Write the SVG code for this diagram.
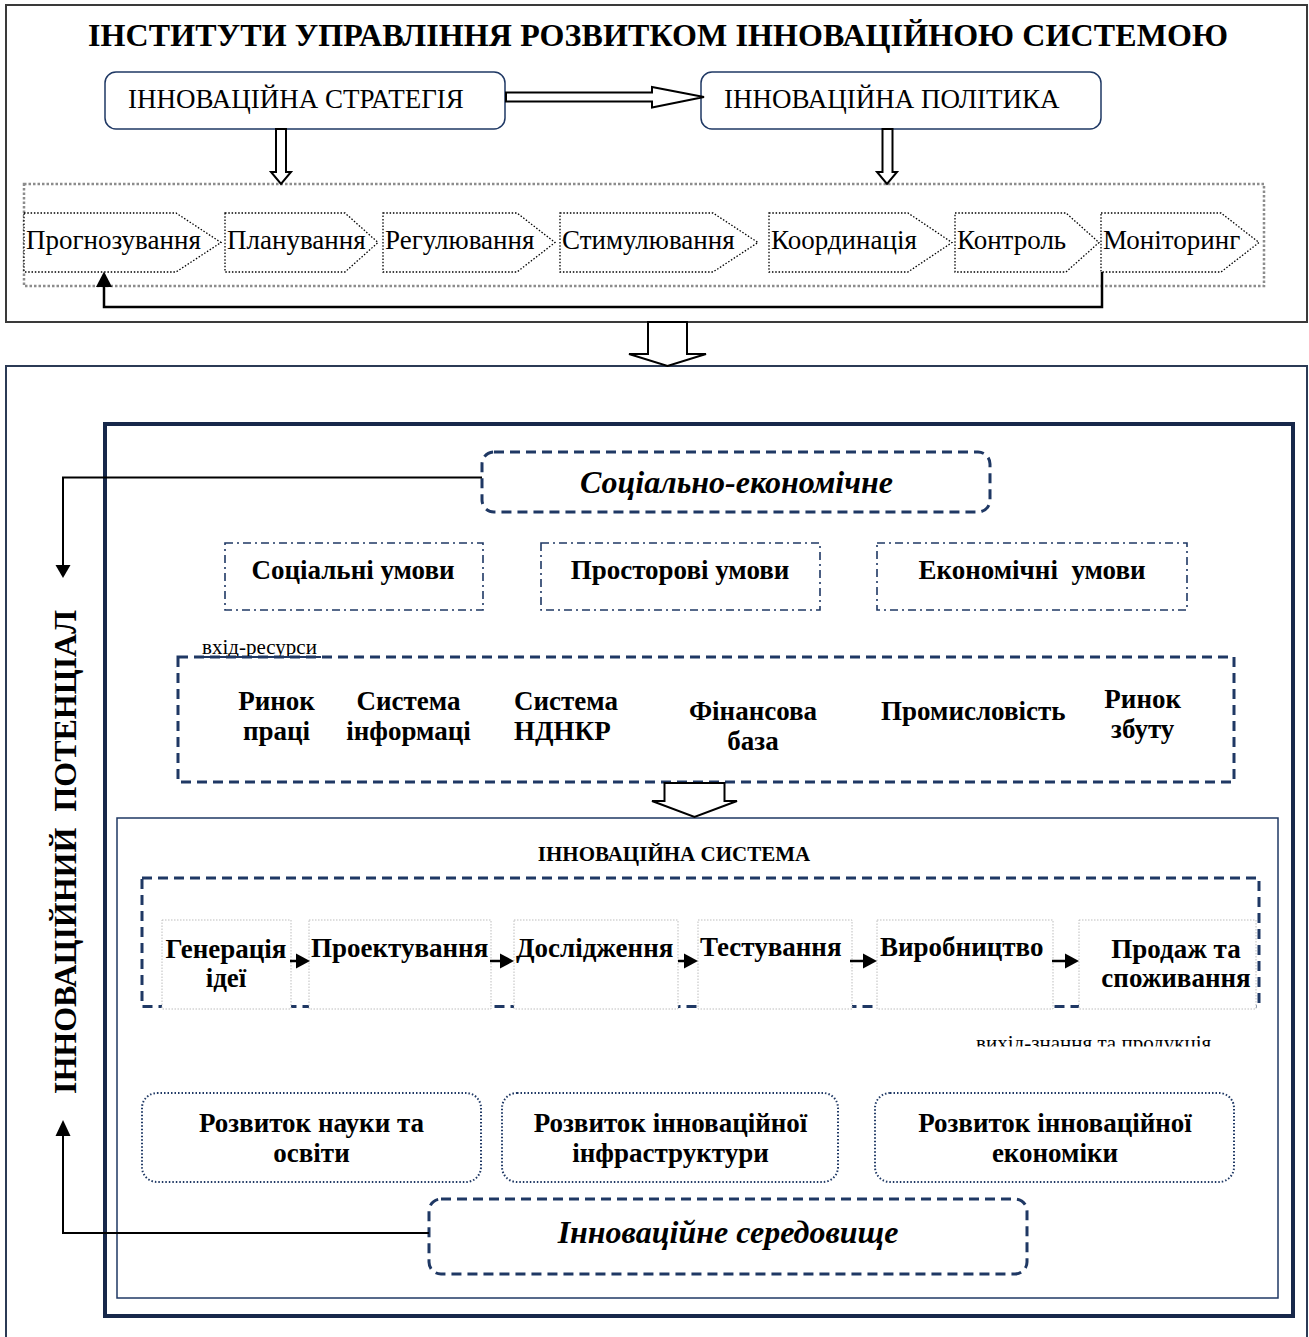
<svg xmlns="http://www.w3.org/2000/svg" width="1309" height="1337" viewBox="0 0 1309 1337">
<style>
text{font-family:"Liberation Serif","Times New Roman",serif;fill:#000}
.t{font-size:32px;font-weight:bold}
.r{font-size:27px}
.b{font-size:27px;font-weight:bold}
.bi{font-size:32px;font-weight:bold;font-style:italic}
.sm{font-size:21px}
.chev{fill:#fff;stroke:#000;stroke-width:1.3;stroke-dasharray:1.5 1.8}
.pbox{fill:#fff;stroke:#bdbdbd;stroke-width:1;stroke-dasharray:1.5 1.5}
.hollow{fill:#fff;stroke:#000;stroke-width:2;stroke-linejoin:miter}
.navydash{fill:none;stroke:#1f3864;stroke-width:3;stroke-dasharray:10 6}
.dashdot{fill:#fff;stroke:#1f3864;stroke-width:1.6;stroke-dasharray:8 4 2 4}
.dev{fill:#fff;stroke:#1f3864;stroke-width:2;stroke-dasharray:1.5 2}
.ln{fill:none;stroke:#000;stroke-width:2.5}
.c{text-anchor:middle}
</style>
<defs>
<clipPath id="clipIn"><rect x="190" y="630" width="140" height="26"/></clipPath>
<clipPath id="clipOut"><rect x="960" y="1025" width="270" height="21.5"/></clipPath>
</defs>

<!-- frames -->
<g id="top-frame">
<rect x="6" y="5" width="1301" height="317" fill="#fff" stroke="#3a3a3a" stroke-width="2"/>
<text class="t c" x="658" y="46" textLength="1140">ІНСТИТУТИ УПРАВЛІННЯ РОЗВИТКОМ ІННОВАЦІЙНОЮ СИСТЕМОЮ</text>
</g>
<g id="bottom-frame">
<rect x="6" y="366" width="1301" height="975" fill="#fff" stroke="#2b3a55" stroke-width="2"/>
</g>
<g id="inner-frame">
<rect x="105" y="424" width="1188" height="892" fill="none" stroke="#17284a" stroke-width="4"/>
</g>
<g id="system-frame">
<rect x="117" y="818" width="1161" height="480" fill="none" stroke="#1f3864" stroke-width="1.5"/>
<text x="674" y="861" class="c" style="font-size:21px;font-weight:bold">ІННОВАЦІЙНА СИСТЕМА</text>
</g>

<!-- top section -->
<g id="strategy">
<rect x="105" y="72" width="400" height="57" rx="11" fill="#fff" stroke="#1f3864" stroke-width="1.5"/>
<text class="r" x="128" y="108">ІННОВАЦІЙНА СТРАТЕГІЯ</text>
</g>
<g id="policy">
<rect x="701" y="72" width="400" height="57" rx="11" fill="#fff" stroke="#1f3864" stroke-width="1.5"/>
<text class="r" x="724" y="108">ІННОВАЦІЙНА ПОЛІТИКА</text>
</g>
<g id="functions-container">
<rect x="24" y="184" width="1240" height="102" fill="none" stroke="#8c8c8c" stroke-width="2.5" stroke-dasharray="2.5 2"/>
</g>
<g id="f1"><path class="chev" d="M24 213H176L221 242.5L176 272H24Z"/><text class="r" x="26" y="249">Прогнозування</text></g>
<g id="f2"><path class="chev" d="M225 213H345L378 242.5L345 272H225Z"/><text class="r" x="227" y="249">Планування</text></g>
<g id="f3"><path class="chev" d="M383 213H517L555 242.5L517 272H383Z"/><text class="r" x="385" y="249">Регулювання</text></g>
<g id="f4"><path class="chev" d="M560 213H713L758 242.5L713 272H560Z"/><text class="r" x="562" y="249">Стимулювання</text></g>
<g id="f5"><path class="chev" d="M769 213H908L952 242.5L908 272H769Z"/><text class="r" x="771" y="249">Координація</text></g>
<g id="f6"><path class="chev" d="M955 213H1066L1099 242.5L1066 272H955Z"/><text class="r" x="957" y="249">Контроль</text></g>
<g id="f7"><path class="chev" d="M1101 213H1221L1259 242.5L1221 272H1101Z"/><text class="r" x="1103" y="249">Моніторинг</text></g>

<!-- middle section -->
<g id="socio-economic">
<rect x="482" y="452" width="508" height="60" rx="12" fill="#fff" class="navydash"/>
<text class="bi c" x="736.5" y="493">Соціально-економічне</text>
</g>
<g id="cond-social"><rect x="225" y="543" width="258" height="67" class="dashdot"/><text class="b c" x="353" y="579">Соціальні умови</text></g>
<g id="cond-spatial"><rect x="541" y="543" width="279" height="67" class="dashdot"/><text class="b c" x="680" y="579">Просторові умови</text></g>
<g id="cond-economic"><rect x="877" y="543" width="310" height="67" class="dashdot"/><text class="b c" x="1032" y="579" style="white-space:pre">Економічні  умови</text></g>

<g id="resources">
<rect x="178" y="657" width="1056" height="125" fill="none" class="navydash"/>
<text class="sm" x="202" y="654" clip-path="url(#clipIn)">вхід-ресурси</text>
<line x1="200" y1="657" x2="321" y2="657" stroke="#1f3864" stroke-width="2"/>
<text class="b c" x="276.5" y="710">Ринок</text><text class="b c" x="276.5" y="740">праці</text>
<text class="b c" x="408.5" y="710">Система</text><text class="b c" x="408.5" y="740">інформаці</text>
<text class="b" x="514" y="710">Система</text><text class="b" x="514" y="740">НДНКР</text>
<text class="b c" x="753" y="720">Фінансова</text><text class="b c" x="753" y="750">база</text>
<text class="b" x="881" y="720">Промисловість</text>
<text class="b c" x="1142.7" y="708">Ринок</text><text class="b c" x="1142.7" y="738">збуту</text>
</g>

<!-- process -->
<g id="process">
<rect x="142" y="878" width="1117" height="128.5" fill="none" class="navydash"/>
</g>
<g id="p1"><rect x="162" y="920" width="129" height="89" class="pbox"/><text class="b c" x="226" y="958">Генерація</text><text class="b c" x="226" y="987">ідеї</text></g>
<g id="p2"><rect x="309" y="920" width="182" height="89" class="pbox"/><text class="b" x="311" y="957">Проектування</text></g>
<g id="p3"><rect x="514" y="920" width="164" height="89" class="pbox"/><text class="b" x="516" y="957">Дослідження</text></g>
<g id="p4"><rect x="698" y="920" width="154" height="89" class="pbox"/><text class="b" x="700" y="956">Тестування</text></g>
<g id="p5"><rect x="877" y="920" width="176" height="89" class="pbox"/><text class="b" x="880" y="956">Виробництво</text></g>
<g id="p6"><rect x="1079" y="920" width="177" height="89" class="pbox"/><text class="b c" x="1176" y="958">Продаж та</text><text class="b c" x="1176" y="987">споживання</text></g>
<text class="sm" x="976" y="1050" clip-path="url(#clipOut)">вихід-знання та продукція</text>

<!-- development -->
<g id="dev-science"><rect x="142" y="1093" width="339" height="89" rx="15" class="dev"/><text class="b c" x="311.5" y="1132">Розвиток науки та</text><text class="b c" x="311.5" y="1162">освіти</text></g>
<g id="dev-infra"><rect x="502" y="1093" width="336" height="89" rx="15" class="dev"/><text class="b c" x="670.5" y="1132">Розвиток інноваційної</text><text class="b c" x="670.5" y="1162">інфраструктури</text></g>
<g id="dev-economy"><rect x="875" y="1093" width="359" height="89" rx="15" class="dev"/><text class="b c" x="1055" y="1132">Розвиток інноваційної</text><text class="b c" x="1055" y="1162">економіки</text></g>

<g id="environment">
<rect x="429" y="1199" width="598" height="75" rx="12" fill="#fff" class="navydash"/>
<text class="bi c" x="728" y="1243">Інноваційне середовище</text>
</g>

<g id="potential">
<text class="t c" transform="translate(76 852) rotate(-90)" style="white-space:pre;font-size:32px">ІННОВАЦІЙНИЙ  ПОТЕНЦІАЛ</text>
</g>

<!-- connectors -->
<g id="connectors">
<polygon class="hollow" points="506,92.5 652,92.5 652,87 704,97 652,107.5 652,101.5 506,101.5"/>
<polygon class="hollow" points="276,129 286,129 286,172 291,172 281,184 271,172 276,172"/>
<polygon class="hollow" points="882.5,129 892.5,129 892.5,172 897,172 887,184 877,172 882.5,172"/>
<polyline class="ln" points="1102,272 1102,307 104,307 104,286"/>
<polygon points="96,287 112,287 104,271.5" fill="#000"/>
<polygon class="hollow" points="648,322 687,322 687,354 706,354 667.5,366 629,354 648,354"/>
<polygon class="hollow" points="664.5,783 724.5,783 724.5,801 737,801 694.5,817 652,801 664.5,801"/>
<polyline fill="none" stroke="#000" stroke-width="2" points="482,477.5 63,477.5 63,566"/>
<polygon points="55.5,565 70.5,565 63,578" fill="#000"/>
<polyline fill="none" stroke="#000" stroke-width="2" points="429,1233 63,1233 63,1134"/>
<polygon points="55.5,1136 70.5,1136 63,1120" fill="#000"/>
<g stroke="#000" stroke-width="2.5">
<line x1="290" y1="961" x2="297" y2="961"/>
<line x1="490" y1="961" x2="500" y2="961"/>
<line x1="678" y1="961" x2="685" y2="961"/>
<line x1="850" y1="961" x2="864" y2="961"/>
<line x1="1052" y1="961" x2="1066" y2="961"/>
</g>
<g fill="#000">
<polygon points="296,953.5 310,961 296,968.5"/>
<polygon points="500,953.5 514,961 500,968.5"/>
<polygon points="684,953.5 698,961 684,968.5"/>
<polygon points="863,953.5 877,961 863,968.5"/>
<polygon points="1065,953.5 1079,961 1065,968.5"/>
</g>
</g>
</svg>
